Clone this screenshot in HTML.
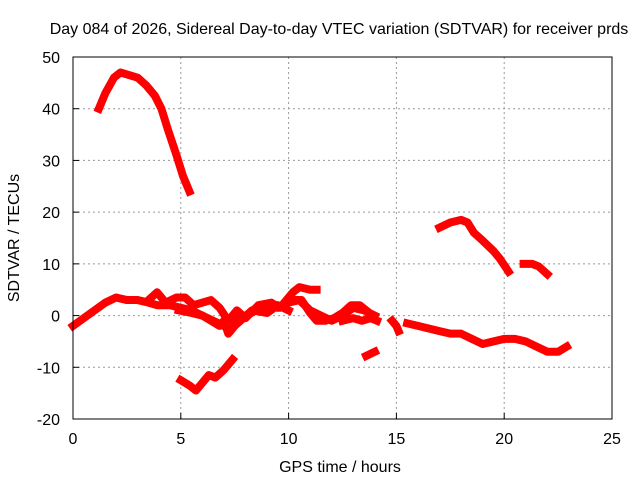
<!DOCTYPE html>
<html><head><meta charset="utf-8"><style>
body{margin:0;background:#fff}
svg{display:block;font-family:"Liberation Sans",sans-serif;font-size:16px}
</style></head><body>
<svg id="c" width="640" height="480">
<text x="339" y="34" text-anchor="middle">Day 084 of 2026, Sidereal Day-to-day VTEC variation (SDTVAR) for receiver prds</text>
<text x="340" y="472" text-anchor="middle">GPS time / hours</text>
<text transform="translate(19,238) rotate(-90)" text-anchor="middle">SDTVAR / TECUs</text>
<g id="grid"></g><g id="marks"></g>
<rect x="73" y="57" width="539" height="362" fill="none" stroke="#000"/>
</svg>
<script>
const xTicks=[0,5,10,15,20,25];
const yTicks=[-20,-10,0,10,20,30,40,50];
const arcA=[[1.2,40],[1.5,43],[1.9,46],[2.2,47],[2.6,46.5],[3.0,46],[3.4,44.5],[3.8,42.5],[4.1,40],[4.4,36],[4.8,31],[5.1,27],[5.4,24]];
const lowV=[[5.0,-12.5],[5.4,-13.5],[5.7,-14.5],[6.0,-13],[6.3,-11.5],[6.6,-12],[7.0,-10.5],[7.4,-8.5]];
const track1=[[0,-2],[0.5,-0.5],[1,1],[1.5,2.5],[2,3.5],[2.5,3],[3,3],[3.5,2.5],[3.9,2],[4.5,2],[5,1.5],[5.5,1],[6,0],[6.5,-1],[7,-2],[7.3,-3],[7.6,-1],[8,0],[8.5,1],[9,2],[9.5,1.5],[10,2.5],[10.5,3],[11,1],[11.5,0],[12,-1],[12.5,0],[13,1.5],[13.5,1],[14,0]];
const track2=[[3.5,3],[3.9,4.5],[4.3,2.5],[4.8,3.5],[5.2,3.5],[5.6,2],[6,2.5],[6.4,3],[6.8,1.5],[7.2,-1],[7.6,1],[8,-0.5],[8.6,2],[9.2,2.5],[9.6,1.5],[10.2,4.5],[10.5,5.5],[11,5],[11.3,5]];
const track3=[[4.9,1],[5.5,0.5],[6,0],[6.4,-1],[6.8,-2],[7,-1],[7.2,-3.5],[7.5,-2],[8.3,1],[9,0.5],[9.5,2],[10,1]];
const track4=[[10.3,3],[10.6,3],[11.0,0.5],[11.3,-1],[11.7,-1],[12.1,-0.5],[12.5,0.5],[12.9,2],[13.3,2],[13.6,1],[13.9,0]];
const track5=[[12.5,-1],[13,-0.5],[13.4,-1],[13.8,-0.5],[14.1,-1]];
const track6=[[14.8,-1],[15.0,-2],[15.1,-3]];
const track7=[[15.5,-1.5],[16,-2],[16.5,-2.5],[17,-3],[17.5,-3.5],[18,-3.5],[18.5,-4.5],[19,-5.5],[19.5,-5],[20,-4.5],[20.5,-4.5],[21,-5],[21.5,-6],[22,-7],[22.5,-7],[22.9,-6]];
const small8=[[13.6,-7.8],[14.0,-7]];
const arcB=[[17.0,17],[17.5,18],[18,18.5],[18.3,18],[18.6,16],[19,14.5],[19.5,12.5],[19.8,11],[20.2,8.5]];
const small10=[[20.9,10],[21.3,10],[21.6,9.5],[22,8]];
const series=[arcA,lowV,track1,track2,track3,track4,track5,track6,track7,small8,arcB,small10];
const X=h=>73+h*(539/25), Y=v=>419-(v+20)*(362/70);
const NS="http://www.w3.org/2000/svg";
const g=document.getElementById('grid'), m=document.getElementById('marks');
function el(t,a,p){const e=document.createElementNS(NS,t);for(const k in a)e.setAttribute(k,a[k]);p.appendChild(e);return e;}
xTicks.forEach(t=>{
 if(t>0&&t<25){const l=el('line',{x1:X(t),x2:X(t),y1:57,y2:419,stroke:'#999','stroke-dasharray':'2,3'},g);
 
 }
 const tk=el('line',{x1:X(t),x2:X(t),y1:419,y2:413,stroke:'#000'},g);
 
 
 const tx=el('text',{x:X(t),y:444,'text-anchor':'middle'},g);tx.textContent=t;
 
 
});
yTicks.forEach(t=>{
 if(t>-20&&t<50){const l=el('line',{x1:73,x2:612,y1:Y(t),y2:Y(t),stroke:'#999','stroke-dasharray':'2,3'},g);
 
 }
 const tk=el('line',{x1:73,x2:79,y1:Y(t),y2:Y(t),stroke:'#000'},g);
 
 
 const tx=el('text',{x:60,y:Y(t)+6,'text-anchor':'end'},g);tx.textContent=t;
 
 
});
series.forEach(s=>{
 const p=el('polyline',{points:s.map(d=>X(d[0])+','+Y(d[1])).join(' '),fill:'none',stroke:'#f00','stroke-width':8,'stroke-linejoin':'round','stroke-linecap':'square'},m);
 
 
});
</script>
</body></html>
